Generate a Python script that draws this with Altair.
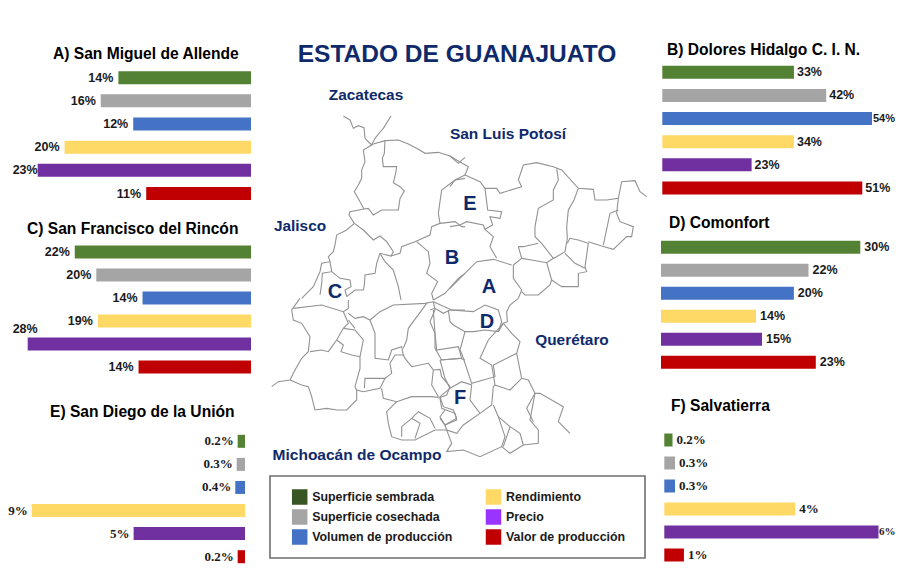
import altair as alt
import pandas as pd

CATS = ["Superficie sembrada", "Superficie cosechada", "Volumen de producción",
        "Rendimiento", "Precio", "Valor de producción"]
BAR_COLORS = ["#548235", "#a5a5a5", "#4472c4", "#ffd966", "#7030a0", "#c00000"]
LEGEND_COLORS = ["#375623", "#a5a5a5", "#4472c4", "#ffd966", "#9933ff", "#c00000"]

A_VALUES = [14.3, 16.2, 12.7, 20.1, 23.0, 11.3]
A_LABELS = ["14%", "16%", "12%", "20%", "23%", "11%"]
B_VALUES = [33.9, 42.2, 54.0, 33.9, 23.0, 51.5]
B_LABELS = ["33%", "42%", "54%", "34%", "23%", "51%"]
C_VALUES = [22.1, 19.4, 13.6, 19.2, 28.0, 14.1]
C_LABELS = ["22%", "20%", "14%", "19%", "28%", "14%"]
D_VALUES = [30.0, 22.2, 20.0, 14.3, 15.2, 23.3]
D_LABELS = ["30%", "22%", "20%", "14%", "15%", "23%"]
E_VALUES = [0.31, 0.35, 0.41, 9.0, 4.7, 0.31]
E_LABELS = ["0.2%", "0.3%", "0.4%", "9%", "5%", "0.2%"]
F_VALUES = [0.23, 0.30, 0.30, 3.67, 6.0, 0.55]
F_LABELS = ["0.2%", "0.3%", "0.3%", "4%", "6%", "1%"]

# Municipal boundaries: (origin x, origin y, points at 3x)
MAP_PATHS = [
    (340,105,[(10,33),(30,45),(40,70),(55,62),(72,68),(75,100),(95,120)]),
    (340,105,[(153,33),(130,70),(125,75),(105,100),(95,120)]),
    (265,130,[(325,42),(295,60),(300,95),(290,120),(290,145),(280,165),(268,185),(285,215),(297,237)]),
    (265,130,[(325,42),(360,32),(400,30),(430,42),(460,58),(480,70),(520,67),(555,78),(580,100),(600,82)]),
    (265,130,[(360,32),(358,70),(352,85),(355,110),(395,110),(392,130),(385,158),(405,170),(418,183),(405,205),(400,240),(370,240),(350,240),(325,255),(310,235),(297,237),(255,245),(252,255),(268,280)]),
    (265,130,[(268,280),(245,300),(215,315),(210,345),(205,365),(190,380),(195,395),(170,400),(165,425),(145,470),(110,505)]),
    (265,130,[(195,395),(200,425),(172,430),(170,460),(165,495)]),
    (265,130,[(200,425),(225,445),(255,450),(258,470),(240,480),(245,500)]),
    (265,130,[(268,280),(295,300),(325,330),(345,318),(365,335),(385,365),(378,378),(345,370),(335,400),(330,430),(300,435),(298,465),(295,480),(270,480),(245,500)]),
    (265,130,[(378,378),(405,370),(410,350),(450,335),(495,315),(500,290),(525,280),(520,250),(530,180),(570,150),(600,145)]),
    (265,130,[(345,370),(360,395),(385,420),(400,470),(408,510)]),
    (265,130,[(455,335),(490,365),(495,400),(485,430),(518,455),(500,490),(505,510)]),
    (265,130,[(505,510),(540,490),(580,445),(600,430)]),
    (265,130,[(525,280),(570,275),(590,290),(600,290)]),
    (450,130,[(0,78),(20,90),(55,110),(45,135),(90,155),(105,175),(140,175),(150,190),(215,170),(205,150),(220,105),(260,98),(310,110),(335,120),(385,175),(430,178),(435,210),(470,210),(505,205),(515,155),(555,152),(570,185),(590,200)]),
    (450,130,[(0,170),(15,150),(45,135)]),
    (450,130,[(0,290),(30,285),(50,275),(100,285),(105,298),(130,320),(120,350),(140,385)]),
    (450,130,[(0,475),(20,455),(50,425),(80,395),(130,388),(185,405)]),
    (450,130,[(105,175),(113,240),(155,245),(150,265),(120,260),(128,285),(105,298)]),
    (450,130,[(320,115),(325,150),(310,180),(310,210),(265,235),(255,290),(255,320),(275,340),(310,385),(320,380),(345,365),(352,325),(350,290),(355,240),(372,210),(385,175)]),
    (450,130,[(205,350),(220,350),(265,340)]),
    (450,130,[(205,350),(215,385),(190,405)]),
    (450,130,[(215,385),(245,390),(290,398),(310,385)]),
    (450,130,[(190,405),(190,445),(215,480),(205,505)]),
    (450,130,[(215,485),(225,495),(265,495),(300,465),(305,450),(290,398)]),
    (450,130,[(305,450),(335,470),(385,470),(385,430),(410,425),(405,410),(415,340),(385,330),(360,325),(352,340)]),
    (450,130,[(345,370),(375,400),(405,415)]),
    (450,130,[(415,335),(455,348),(490,358),(530,320),(545,320),(550,290),(510,275),(500,250),(505,205)]),
    (450,130,[(505,240),(480,250),(460,345)]),
    (265,290,[(105,25),(80,60),(85,90),(110,100),(135,140),(130,185),(110,205),(90,240),(75,270),(40,275),(20,290)]),
    (265,290,[(75,270),(110,285),(130,290),(140,320),(150,360),(185,355),(215,360),(245,360),(275,330),(275,300),(295,305),(345,295),(360,265),(300,265),(298,295)]),
    (265,290,[(85,55),(170,45),(235,65),(250,55),(250,30)]),
    (265,290,[(235,65),(250,100),(235,115),(215,150),(190,185),(170,180),(135,185)]),
    (265,290,[(235,115),(270,120),(295,150),(285,200),(285,235),(270,290),(275,300)]),
    (265,290,[(215,150),(235,165),(228,185),(260,195),(285,200)]),
    (265,290,[(250,70),(270,85),(295,80),(315,90),(345,65),(385,45),(480,40),(505,35)]),
    (265,290,[(250,90),(270,115)]),
    (265,290,[(315,90),(330,130),(330,160),(330,205),(370,210),(380,180),(410,170),(415,195),(420,205),(440,230),(490,220),(505,240),(500,285),(520,320)]),
    (265,290,[(415,195),(390,195),(375,220),(380,250),(360,265)]),
    (265,290,[(485,40),(430,115),(425,150),(415,175)]),
    (265,290,[(505,35),(510,60),(495,95),(510,130),(510,175),(530,210),(585,205),(600,210)]),
    (265,290,[(505,240),(525,238),(530,260),(555,290),(545,315),(520,325)]),
    (265,290,[(350,295),(355,325),(395,335),(440,320),(500,320),(520,322)]),
    (265,290,[(395,335),(365,365),(370,400),(380,440),(410,450),(450,450),(510,420),(545,420)]),
    (265,290,[(410,440),(410,410),(440,385),(460,365),(495,385),(510,415)]),
    (265,290,[(450,445),(465,400),(440,385)]),
    (265,290,[(525,325),(530,355),(570,370),(575,390),(540,405),(525,385)]),
    (265,290,[(505,35),(560,60),(600,60)]),
    (430,290,[(0,60),(15,55),(40,70),(60,60),(130,65),(165,45),(205,60),(215,95),(205,125),(165,120),(130,125),(105,125),(70,105),(60,95),(55,60)]),
    (430,290,[(265,25),(240,45),(230,65),(232,95),(220,100),(245,130),(270,155),(260,190),(275,265),(240,300),(195,285),(185,225),(150,205),(175,150),(220,100)]),
    (430,290,[(220,100),(205,125)]),
    (430,290,[(260,190),(190,225),(195,260),(125,280),(115,250),(95,190),(90,180),(105,125)]),
    (430,290,[(30,210),(95,205),(85,170),(20,180),(15,130),(10,60)]),
    (430,290,[(30,210),(45,265),(60,295),(30,320),(40,350),(70,360),(80,385),(45,405),(30,380),(45,360)]),
    (430,290,[(60,295),(95,275),(125,285),(120,330),(150,370),(185,345),(190,290),(195,285)]),
    (430,290,[(150,370),(100,405),(80,430),(50,420),(65,460),(50,485),(100,480),(150,500),(215,470),(225,440),(205,380),(190,345)]),
    (430,290,[(215,470),(240,490),(280,465),(325,460),(325,420),(300,390),(315,310),(330,310),(400,350),(385,395),(420,430)]),
    (430,290,[(275,265),(295,270),(315,310),(290,355),(310,395)]),
    (430,290,[(205,380),(240,410),(270,430),(280,465)]),
    (430,290,[(240,410),(220,470)]),
    (430,290,[(45,405),(50,420)]),
]

MARGIN = 8
W, H = 887, 560
SANS = "Liberation Sans"
SERIF = "Liberation Serif"
NAVY = "#0f2a6b"


def px(v):
    return v - MARGIN


def annot(text, x, y, size, color="#000000", font=SANS, align="left", weight="bold"):
    return alt.Chart(pd.DataFrame({"t": [text]})).mark_text(
        font=font, fontSize=size, fontWeight=weight, color=color, align=align, baseline="middle"
    ).encode(text="t:N", x=alt.value(px(x)), y=alt.value(px(y)))


def panel(values, labels, x0, x1, y_first, y_last, font, size, gap, specials=None):
    specials = specials or {}
    df = pd.DataFrame({"cat": CATS, "v": values, "lab": labels, "i": range(len(CATS))})
    step = (y_last - y_first) / 5
    xs = alt.X("v:Q", axis=None, stack=None,
               scale=alt.Scale(domain=[0, max(values)], range=[px(x0), px(x1)], nice=False))
    ys = alt.Y("cat:N", axis=None, sort=CATS,
               scale=alt.Scale(domain=CATS, range=[px(y_first - step / 2), px(y_last + step / 2)],
                               paddingInner=1 - 13 / step, paddingOuter=(1 - 13 / step) / 2))
    col = alt.Color("cat:N", legend=None, scale=alt.Scale(domain=CATS, range=BAR_COLORS))
    leftward = x1 < x0
    bars = alt.Chart(df).mark_bar(cornerRadius=0).encode(x=xs, y=ys, color=col)
    out = [bars]
    base = dict(font=font, fontWeight="bold", color="#1a1a1a",
                align="right" if leftward else "left", baseline="middle")
    normal = df[~df["i"].isin(list(specials))]
    out.append(alt.Chart(normal).mark_text(dx=-gap if leftward else gap, fontSize=size, **base)
               .encode(x=xs, y=ys, text="lab:N"))
    for idx, (dx, dy, sz) in specials.items():
        out.append(alt.Chart(df[df["i"] == idx]).mark_text(dx=dx, dy=dy, fontSize=sz, **base)
                   .encode(x=xs, y=ys, text="lab:N"))
    return out


rows = []
for pid, (ox, oy, pts) in enumerate(MAP_PATHS):
    for i, (zx, zy) in enumerate(pts):
        rows.append({"path": pid, "i": i, "x": ox + zx / 3, "y": oy + zy / 3})
map_df = pd.DataFrame(rows)
map_layer = alt.Chart(map_df).mark_line(color="#929292", strokeWidth=1.1, interpolate="linear").encode(
    x=alt.X("x:Q", axis=None, scale=alt.Scale(domain=[MARGIN, MARGIN + W], range=[0, W], nice=False, zero=False)),
    y=alt.Y("y:Q", axis=None, scale=alt.Scale(domain=[MARGIN, MARGIN + H], range=[0, H], nice=False, zero=False)),
    detail="path:N",
    order="i:Q",
)

legend_df = pd.DataFrame({
    "name": CATS,
    "col": [0, 0, 0, 1, 1, 1],
    "row": [0, 1, 2, 0, 1, 2],
})
lx = alt.X("col:Q", axis=None, scale=alt.Scale(domain=[0, 1], range=[px(299.7), px(493.5)], nice=False))
ly = alt.Y("row:Q", axis=None, scale=alt.Scale(domain=[0, 2], range=[px(497), px(537)], nice=False))
legend_box = alt.Chart(pd.DataFrame({"a": [0]})).mark_rect(
    fill="#ffffff", stroke="#6e6e6e", strokeWidth=1.6
).encode(x=alt.value(px(270)), x2=alt.value(px(645)), y=alt.value(px(476)), y2=alt.value(px(558)))
legend_sw = alt.Chart(legend_df).mark_square(size=240, opacity=1, filled=True).encode(
    x=lx, y=ly,
    color=alt.Color("name:N", legend=None, scale=alt.Scale(domain=CATS, range=LEGEND_COLORS)),
)
legend_tx = alt.Chart(legend_df).mark_text(
    font=SANS, fontSize=12.4, fontWeight="bold", color="#1a1a1a", align="left", baseline="middle", dx=12.5
).encode(x=lx, y=ly, text="name:N")

layers = [map_layer]
layers += panel(A_VALUES, A_LABELS, 251, 37.7, 77.7, 193.5, SANS, 12.5, 5, {4: (0, 0, 12.5)})
layers += panel(C_VALUES, C_LABELS, 251, 27.7, 252, 367, SANS, 12.5, 5, {4: (10, -15, 12.5)})
layers += panel(E_VALUES, E_LABELS, 245, 31.7, 441.3, 556.7, SERIF, 13, 4)
layers += panel(B_VALUES, B_LABELS, 662.3, 872, 72.3, 188, SANS, 12.5, 3, {2: (1, 0, 11)})
layers += panel(D_VALUES, D_LABELS, 661, 860.3, 247.3, 362.3, SANS, 12.5, 4)
layers += panel(F_VALUES, F_LABELS, 664.3, 878.5, 440, 555, SERIF, 13, 4, {4: (0.5, 0, 11)})
layers += [legend_box, legend_sw, legend_tx]
layers += [
    annot("A) San Miguel de Allende", 53, 54, 15.6),
    annot("C) San Francisco del Rincón", 27, 229, 15.6),
    annot("E) San Diego de la Unión", 50, 412, 15.6),
    annot("B) Dolores Hidalgo C. I. N.", 667, 50, 15.6),
    annot("D) Comonfort", 669, 223, 15.6),
    annot("F) Salvatierra", 671, 406, 15.6),
    annot("ESTADO DE GUANAJUATO", 457, 55, 24.5, NAVY, align="center"),
    annot("Zacatecas", 366, 95, 15.4, NAVY, align="center"),
    annot("San Luis Potosí", 508, 134, 15.5, NAVY, align="center"),
    annot("Jalisco", 300, 226, 15.4, NAVY, align="center"),
    annot("Querétaro", 572, 340, 15.4, NAVY, align="center"),
    annot("Michoacán de Ocampo", 357, 455, 15.5, NAVY, align="center"),
]
for letter, x, y in [("E", 470, 204), ("B", 452, 258), ("A", 489, 287),
                     ("C", 335, 292), ("D", 487, 322), ("F", 460, 398)]:
    layers.append(annot(letter, x, y, 20, NAVY, align="center"))

chart = alt.layer(*layers).resolve_scale(
    x="independent", y="independent", color="independent"
).properties(
    width=W, height=H, padding=0, background="#ffffff",
    autosize=alt.AutoSizeParams(type="none"),
).configure_view(stroke=None)

chart.save("out.html", embed_options={"renderer": "svg", "actions": False})
